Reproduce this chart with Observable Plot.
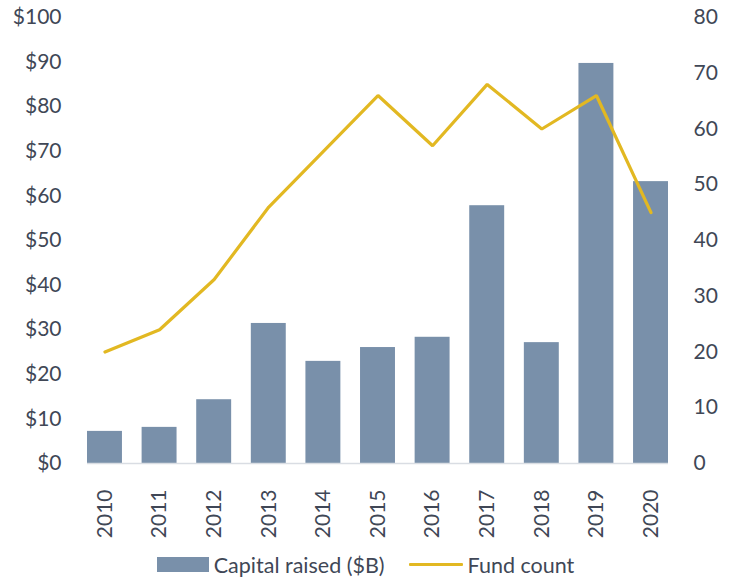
<!DOCTYPE html>
<html>
<head>
<meta charset="utf-8">
<script src="https://cdn.jsdelivr.net/npm/d3@7"></script>
<script src="https://cdn.jsdelivr.net/npm/@observablehq/plot@0.6"></script>
<style>
  body { margin: 0; background: #fff; font-family: Lato, sans-serif; color: #404756; }
  #chart { width: 731px; }
  .legend { display: flex; justify-content: center; align-items: center; height: 39px; font-size: 21.5px; color: #404756; }
  .legend .item { display: flex; align-items: center; }
  .legend .sw-bar { width: 52px; height: 15px; background: #7990aa; margin-right: 5px; }
  .legend .sw-line { width: 54px; height: 3px; background: #e2b822; margin-right: 5px; border-radius: 1px; }
  .legend .gap { width: 24px; }
</style>
</head>
<body>
<div id="chart"></div>
<script>
const years = ["2010","2011","2012","2013","2014","2015","2016","2017","2018","2019","2020"];
const capitalRaised = [7.2, 8.1, 14.3, 31.4, 22.9, 26.0, 28.3, 57.8, 27.1, 89.7, 63.2];
const fundCount = [20, 24, 33, 46, 56, 66, 57, 68, 60, 66, 45];
const leftTicks = [0, 10, 20, 30, 40, 50, 60, 70, 80, 90, 100];
const rightTicks = [0, 10, 20, 30, 40, 50, 60, 70, 80];
const seriesNames = ["Capital raised ($B)", "Fund count"];

const ratio = 100 / 80;
const barData = years.map((y, i) => ({year: y, value: capitalRaised[i]}));
const lineData = years.map((y, i) => ({year: y, value: fundCount[i] * ratio}));

const textColor = "#404756";
const chart = Plot.plot({
  width: 731,
  height: 545,
  marginLeft: 87,
  marginRight: 63,
  marginTop: 17,
  marginBottom: 82,
  style: {fontFamily: "Lato, sans-serif", fontSize: "21px", color: textColor, background: "#fff"},
  x: {type: "band", domain: years, paddingInner: 0.36, paddingOuter: 0, round: false},
  y: {domain: [0, 100]},
  marks: [
    Plot.barY(barData, {x: "year", y: "value", fill: "#7990aa"}),
    Plot.ruleY([0], {stroke: "#d9dde3", strokeWidth: 1.5}),
    Plot.line(lineData, {x: "year", y: "value", stroke: "#e2b822", strokeWidth: 3.2, strokeLinejoin: "miter", strokeLinecap: "round"}),
    Plot.axisY(leftTicks, {anchor: "left", tickSize: 0, tickPadding: 26, tickFormat: d => "$" + d, label: null, fill: textColor}),
    Plot.axisY(rightTicks.map(v => v * ratio), {anchor: "right", tickSize: 0, tickPadding: 25, tickFormat: d => String(Math.round(d / ratio)), label: null, fill: textColor}),
    Plot.axisX({tickSize: 0, tickPadding: 26, tickRotate: -90, label: null, fill: textColor})
  ]
});
document.getElementById("chart").appendChild(chart);

const legend = document.createElement("div");
legend.className = "legend";
legend.innerHTML = `<div class="item"><div class="sw-bar"></div><span>${seriesNames[0]}</span></div><div class="gap"></div><div class="item"><div class="sw-line"></div><span>${seriesNames[1]}</span></div>`;
document.getElementById("chart").appendChild(legend);
</script>
</body>
</html>
